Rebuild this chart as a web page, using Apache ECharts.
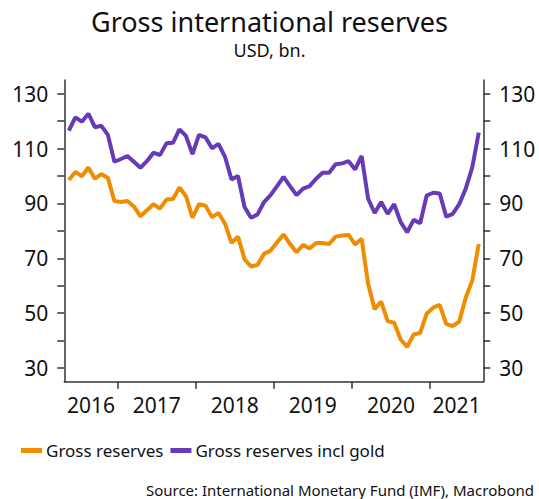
<!DOCTYPE html>
<html>
<head>
<meta charset="utf-8">
<script src="https://cdn.jsdelivr.net/npm/echarts@6/dist/echarts.min.js"></script>
<style>
html,body{margin:0;padding:0;background:#fff;}
#chart{width:539px;height:499px;}
</style>
</head>
<body>
<div id="chart"></div>
<script>
// ---- data ----
var months = [
'2016-05','2016-06','2016-07','2016-08','2016-09','2016-10','2016-11','2016-12',
'2017-01','2017-02','2017-03','2017-04','2017-05','2017-06','2017-07','2017-08','2017-09','2017-10','2017-11','2017-12',
'2018-01','2018-02','2018-03','2018-04','2018-05','2018-06','2018-07','2018-08','2018-09','2018-10','2018-11','2018-12',
'2019-01','2019-02','2019-03','2019-04','2019-05','2019-06','2019-07','2019-08','2019-09','2019-10','2019-11','2019-12',
'2020-01','2020-02','2020-03','2020-04','2020-05','2020-06','2020-07','2020-08','2020-09','2020-10','2020-11','2020-12',
'2021-01','2021-02','2021-03','2021-04','2021-05','2021-06','2021-07','2021-08'
];
var grossReserves = [
98.5,101.5,99.9,103.1,99.0,100.7,99.3,90.9,
90.5,90.9,88.9,85.3,87.5,89.7,88.1,91.4,91.6,95.8,92.6,84.8,
89.7,89.2,85.0,86.5,82.6,75.6,77.9,69.7,67.0,67.6,71.6,72.8,
75.8,78.7,75.2,72.2,74.9,73.6,75.6,75.6,75.2,77.9,78.3,78.5,
75.0,77.1,60.6,51.4,54.2,47.1,46.5,40.4,37.7,42.2,42.8,49.8,
52.0,53.0,46.1,45.3,46.9,55.7,61.8,75.2
];
var grossReservesGold = [
116.5,121.4,119.8,122.7,117.8,118.3,115.0,105.2,
106.2,107.3,105.2,103.0,105.4,108.5,107.6,111.9,112.1,117.0,114.6,108.0,
115.0,114.1,110.1,111.7,107.0,98.7,100.0,88.7,84.8,86.0,90.5,93.0,
96.3,99.7,96.3,93.0,95.4,96.3,99.0,101.2,101.2,104.3,104.6,105.4,
102.4,107.3,91.7,86.5,90.5,86.2,89.7,83.2,79.5,84.0,82.8,92.9,
93.9,93.6,85.2,86.2,89.7,95.4,103.1,115.8
];
var yearLabels = ['2016','2017','2018','2019','2020','2021'];
var yTicks = [30,40,50,60,70,80,90,100,110,120,130];
var yLabels = [30,50,70,90,110,130];
var seriesNames = ['Gross reserves','Gross reserves incl gold'];

// ---- helpers ----
var FONT = 'Noto Sans';
var BASE_YEAR = 2016;
function monthPos(s){ // months since Jan 2016, mid-month
  var p = s.split('-');
  return (parseInt(p[0],10)-BASE_YEAR)*12 + (parseInt(p[1],10)-1) + 0.5;
}
var xMin = 3.8, xMax = 68.2;
var yearTicks = [];
var yearLabelPos = [];
for (var i=0;i<yearLabels.length;i++){
  var s = i*12, e = s+12;
  if (i>0) yearTicks.push(s);
  var a = Math.max(s,xMin), b = Math.min(e,xMax);
  yearLabelPos.push((a+b)/2);
}
function yearOf(v){ return yearLabels[Math.floor(v/12)] || ''; }
function pairs(vals){ return months.map(function(m,i){ return [monthPos(m), vals[i]]; }); }

var axisColor = '#333';
var textColor = '#111';
function yAxisCfg(pos){
  return {
    type:'value', position:pos, min:25, max:135,
    axisLine:{show:true, lineStyle:{color:axisColor, width:1.5}},
    axisTick:{show:true, length:7, inside:false, customValues:yTicks, lineStyle:{color:axisColor, width:1.5}},
    axisLabel:{customValues:yLabels, margin:16, color:textColor, fontFamily:FONT, fontSize:21},
    splitLine:{show:false}
  };
}

var chart = echarts.init(document.getElementById('chart'), null, {renderer:'svg'});
chart.setOption({
  animation:false,
  backgroundColor:'#fff',
  color:['#f08c00','#673ab7'],
  title:[
    {text:'Gross international reserves', left:'center', top:6, padding:0, textStyle:{fontFamily:FONT, fontSize:27, lineHeight:31, fontWeight:'normal', color:textColor}},
    {text:'USD, bn.', left:'center', top:40, padding:0, textStyle:{fontFamily:FONT, fontSize:18, lineHeight:20, fontWeight:'normal', color:textColor}}
  ],
  grid:{left:64.3, right:55.7, top:80, bottom:117.3, containLabel:false},
  xAxis:{
    type:'value', min:xMin, max:xMax,
    axisLine:{show:true, lineStyle:{color:axisColor, width:1.5}},
    axisTick:{show:true, length:7, customValues:yearTicks, lineStyle:{color:axisColor, width:1.5}},
    axisLabel:{customValues:yearLabelPos, formatter:function(v){return yearOf(v);}, margin:13, color:textColor, fontFamily:FONT, fontSize:21},
    splitLine:{show:false}
  },
  yAxis:[yAxisCfg('left'), yAxisCfg('right')],
  legend:{
    left:16, top:437, itemWidth:21, itemHeight:5, itemGap:7, icon:'rect',
    textStyle:{fontFamily:FONT, fontSize:17, color:textColor, padding:[0,0,0,-1]},
    data:seriesNames
  },
  graphic:[{
    type:'text', right:5, top:482,
    style:{text:'Source: International Monetary Fund (IMF), Macrobond', font:'15px "Noto Sans"', fill:textColor}
  }],
  series:[
    {name:seriesNames[0], type:'line', data:pairs(grossReserves), showSymbol:false, symbol:'none', lineStyle:{width:4, color:'#f08c00'}, itemStyle:{color:'#f08c00'}},
    {name:seriesNames[1], type:'line', data:pairs(grossReservesGold), showSymbol:false, symbol:'none', lineStyle:{width:4, color:'#673ab7'}, itemStyle:{color:'#673ab7'}}
  ]
});
</script>
</body>
</html>
